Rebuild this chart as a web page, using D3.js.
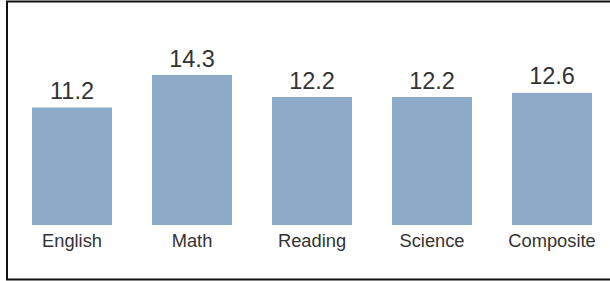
<!DOCTYPE html>
<html>
<head>
<meta charset="utf-8">
<script src="https://d3js.org/d3.v7.min.js"></script>
<style>
  body { margin: 0; background: #fff; }
  svg text { font-family: "Liberation Sans", Arial, sans-serif; fill: #333; }
</style>
</head>
<body>
<div id="chart"></div>
<script>
// chart data
var subjects = ['English', 'Math', 'Reading', 'Science', 'Composite'];
var scores = [11.2, 14.3, 12.2, 12.2, 12.6];

var width = 610, height = 281;

var svg = d3.select('#chart')
  .append('svg')
  .attr('width', width)
  .attr('height', height);

// frame round the chart (right edge runs off the page)
svg.append('rect')
  .attr('x', 7)
  .attr('y', 1.5)
  .attr('width', width + 10)
  .attr('height', 278)
  .attr('fill', 'none')
  .attr('stroke', '#111')
  .attr('stroke-width', 2);

var x = d3.scaleBand()
  .domain(subjects)
  .range([12, 612])
  .paddingInner(1 / 3)
  .paddingOuter(1 / 6);

var y = d3.scaleLinear()
  .domain([0, 14.3])
  .range([225, 75]);

var bars = svg.selectAll('g.bar')
  .data(subjects).enter()
  .append('g')
  .attr('class', 'bar');

bars.append('rect')
  .attr('x', function (d) { return x(d); })
  .attr('y', function (d, i) { return y(scores[i]); })
  .attr('width', x.bandwidth())
  .attr('height', function (d, i) { return y(0) - y(scores[i]); })
  .attr('fill', '#8DAAC9');

// value on top of each bar
bars.append('text')
  .attr('x', function (d) { return x(d) + x.bandwidth() / 2; })
  .attr('y', function (d, i) { return y(scores[i]) - 8.5; })
  .attr('text-anchor', 'middle')
  .style('font-size', '23.5px')
  .text(function (d, i) { return scores[i].toFixed(1); });

// category axis, no line or ticks
var xAxis = svg.append('g')
  .attr('transform', 'translate(0,' + y(0) + ')')
  .call(d3.axisBottom(x).tickSize(0).tickPadding(9.5));
xAxis.select('.domain').remove();
xAxis.selectAll('text')
  .style('font-size', '18.3px')
  .attr('fill', '#333')
  .attr('font-family', '"Liberation Sans", Arial, sans-serif');
</script>
</body>
</html>
